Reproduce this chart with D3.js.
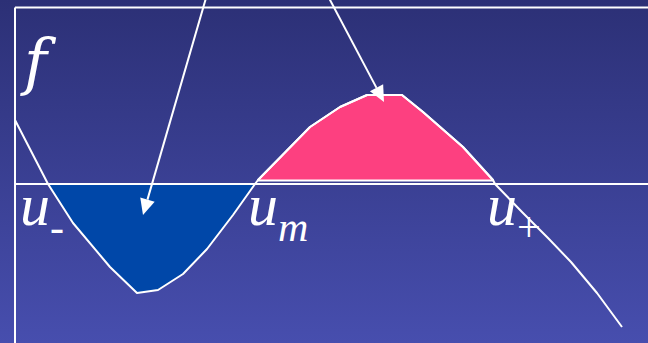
<!DOCTYPE html>
<html>
<head>
<meta charset="utf-8">
<script src="https://cdn.jsdelivr.net/npm/d3@7"></script>
<style>
  html, body { margin: 0; padding: 0; background: #2d3177; }
  svg { display: block; }
</style>
</head>
<body>
<svg id="chart" width="648" height="343"></svg>
<script>
// Flux function f(u): sampled points along the curve (u to the right, f upward).
const uCurve = [0, 33, 58, 95, 122, 143, 168, 192, 218, 240, 243, 295, 325, 352, 387, 408, 448, 478, 480, 507, 533, 556, 582, 607];
const fCurve = [64, 0, -39, -83, -109, -106, -90, -65, -31, 0, 4, 57, 77, 89, 89, 72, 37, 4, 0, -28, -54, -78, -109, -143];

// Lobe below the axis (u- .. um) and lobe above it (um .. u+), as index ranges into the curve.
const lowerLobe = [1, 9];
const upperLobe = [10, 17];
const upperBase = 3.5;

// Annotation arrows: [uStart, fStart, uTip, fTip]
const arrows = [
  [191, 186, 128, -31],
  [314, 186, 369, 82]
];

// Point labels on the u-axis: main symbol, subscript, u position
const labelMain = ["u", "u", "u"];
const labelSub = ["-", "m", "+"];
const labelU = [5, 233, 472];

const W = 648, H = 343;
const svg = d3.select("#chart");

const x = d3.scaleLinear().domain([0, 633]).range([15, 648]);
const y = d3.scaleLinear().domain([-159, 176.5]).range([343, 7.5]);

// background gradient
const defs = svg.append("defs");
const grad = defs.append("linearGradient").attr("id", "bg")
  .attr("x1", 0).attr("y1", 0).attr("x2", 0).attr("y2", 1);
grad.append("stop").attr("offset", "0%").attr("stop-color", "#2c3076");
grad.append("stop").attr("offset", "100%").attr("stop-color", "#474eae");
svg.append("rect").attr("width", W).attr("height", H).attr("fill", "url(#bg)");

const pts = uCurve.map((u, i) => [u, fCurve[i]]);

// filled lobes
const lobeArea = (base) => d3.area().x(d => x(d[0])).y0(y(base)).y1(d => y(d[1]));
const low = pts.slice(lowerLobe[0], lowerLobe[1] + 1);
const up = pts.slice(upperLobe[0], upperLobe[1] + 1);

svg.append("path").datum(low)
  .attr("d", lobeArea(0))
  .attr("fill", "#0047a8").attr("stroke", "none");

svg.append("path").datum(up)
  .attr("d", lobeArea(upperBase))
  .attr("fill", "#fd4080").attr("stroke", "#ffffff").attr("stroke-width", 2)
  .attr("stroke-linejoin", "round");

// frame: left edge, top edge, and the u-axis at f = 0
const frame = svg.append("g").attr("stroke", "#ffffff").attr("stroke-width", 2).attr("fill", "none");
frame.append("line").attr("x1", x(0)).attr("x2", x(0)).attr("y1", y(176.5)).attr("y2", H);
frame.append("line").attr("x1", x(0)).attr("x2", W).attr("y1", y(176.5)).attr("y2", y(176.5));
frame.append("line").attr("x1", x(0)).attr("x2", W).attr("y1", y(0)).attr("y2", y(0));

// the flux curve
svg.append("path").datum(pts)
  .attr("d", d3.line().x(d => x(d[0])).y(d => y(d[1])))
  .attr("fill", "none").attr("stroke", "#ffffff").attr("stroke-width", 2)
  .attr("stroke-linejoin", "round");

// arrows with solid triangular heads
arrows.forEach(a => {
  const x0 = x(a[0]), y0 = y(a[1]), x1 = x(a[2]), y1 = y(a[3]);
  const dx = x1 - x0, dy = y1 - y0, len = Math.hypot(dx, dy);
  const ux = dx / len, uy = dy / len;
  const hl = 16, hw = 7.5;
  const bx = x1 - ux * hl, by = y1 - uy * hl;
  svg.append("line").attr("x1", x0).attr("y1", y0).attr("x2", bx).attr("y2", by)
    .attr("stroke", "#ffffff").attr("stroke-width", 2);
  svg.append("path")
    .attr("d", `M${x1},${y1}L${bx - uy * hw},${by + ux * hw}L${bx + uy * hw},${by - ux * hw}Z`)
    .attr("fill", "#ffffff");
});

// function name
svg.append("text")
  .attr("x", 24).attr("y", 83)
  .attr("font-family", "'DejaVu Serif', serif")
  .attr("font-style", "italic").attr("font-size", 62)
  .attr("fill", "#ffffff").text("f");

// axis point labels
labelMain.forEach((m, i) => {
  const t = svg.append("text")
    .attr("x", x(labelU[i])).attr("y", 225)
    .attr("font-family", "'Liberation Serif', 'Times New Roman', serif")
    .attr("fill", "#ffffff");
  t.append("tspan").attr("font-style", "italic").attr("font-size", 60).text(m);
  t.append("tspan")
    .attr("font-style", labelSub[i] === "m" ? "italic" : "normal")
    .attr("font-size", 42).attr("dy", 16).text(labelSub[i]);
});
</script>
</body>
</html>
